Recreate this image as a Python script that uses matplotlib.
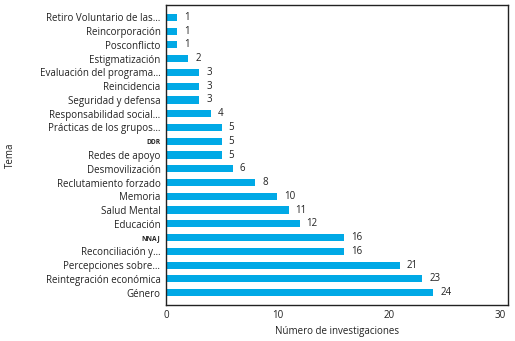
import matplotlib
matplotlib.use("Agg")
from matplotlib import pyplot as plt

# DATA (top to bottom as shown)
temas = [
    "Retiro Voluntario de las…", "Reincorporación", "Posconflicto",
    "Estigmatización", "Evaluación del programa…", "Reincidencia",
    "Seguridad y defensa", "Responsabilidad social…",
    "Prácticas de los grupos…", "DDR", "Redes de apoyo",
    "Desmovilización", "Reclutamiento forzado", "Memoria",
    "Salud Mental", "Educación", "NNAJ", "Reconciliación y…",
    "Percepciones sobre…", "Reintegración económica", "Género",
]
investigaciones = [1, 1, 1, 2, 3, 3, 3, 4, 5, 5, 5, 6, 8, 10, 11, 12,
                   16, 16, 21, 23, 24]
x_ticks = [0, 10, 20, 30]
small_caps = ["DDR", "NNAJ"]

plt.rcParams["font.family"] = ["Open Sans", "DejaVu Sans"]

# SET PLOT
fig = plt.figure(figsize=(5.15, 3.41), dpi=100)
ax = fig.add_axes([166 / 515, 1 - 305 / 341, (508 - 166) / 515, 300 / 341])

n = len(temas)
pos = [n - 1 - i for i in range(n)]
ax.barh(pos, investigaciones, height=0.52, color="#00a9e6")

for p, v in zip(pos, investigaciones):
    ax.annotate(str(v), (v, p), xytext=(5, 0), textcoords="offset points",
                va="center", ha="left", fontsize=7, color="#222222")

ax.set_yticks(pos)
ax.set_yticklabels(temas, fontsize=7, color="#222222")
for lbl in ax.get_yticklabels():
    if lbl.get_text() in small_caps:
        lbl.set_fontsize(4.8)
        lbl.set_fontweight("bold")

ax.set_xticks(x_ticks)
ax.set_xticklabels([str(t) for t in x_ticks], fontsize=7, color="#222222")
ax.tick_params(length=0)
ax.tick_params(axis="y", pad=4)
ax.tick_params(axis="x", pad=3.5)
ax.set_xlim(0, 30.7)
ax.set_ylim(-0.9, n - 0.1)

for s in ax.spines.values():
    s.set_linewidth(1.0)
    s.set_color("#222222")

# TITLES GRAPH X AND Y
ax.set_xlabel("Número de investigaciones", fontsize=7, color="#222222",
              labelpad=4)
ax.set_ylabel("Tema", fontsize=7, color="#222222")
ax.yaxis.set_label_coords(-150 / 342, 0.5)

fig.savefig("out.png", dpi=100)
